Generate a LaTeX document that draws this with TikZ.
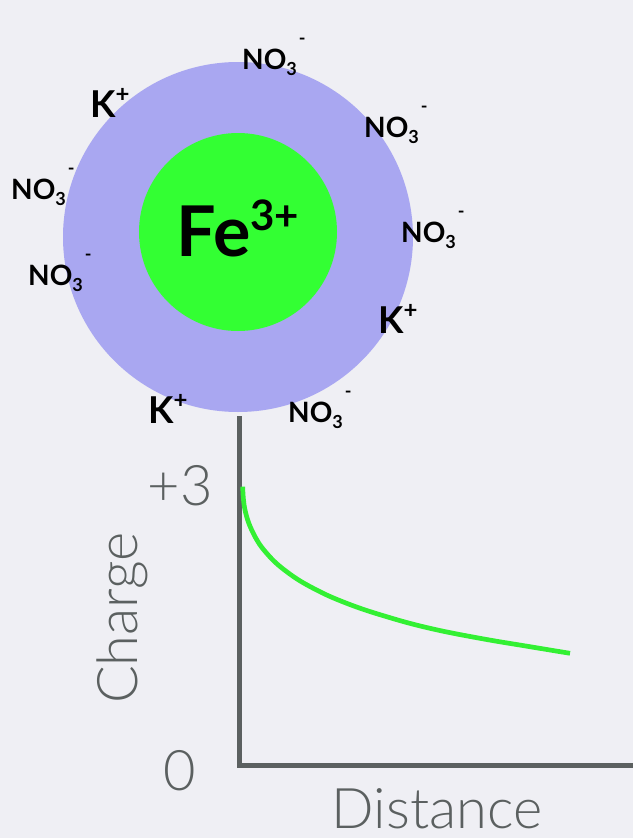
\documentclass[tikz,border=0pt]{standalone}
\usepackage{fontspec}
\setmainfont{Lato}
\newfontfamily\lightf{Lato Light}
\definecolor{bgc}{HTML}{EFEFF4}
\definecolor{lav}{HTML}{A9A7F1}
\definecolor{core}{HTML}{33FF33}
\definecolor{crv}{HTML}{33F033}
\definecolor{axc}{HTML}{5B6060}
\newcommand\nothree{\fontsize{28}{30}\selectfont\bfseries NO\raisebox{-6pt}{\fontsize{18}{18}\selectfont 3}\hspace{2pt}\raisebox{25pt}{\fontsize{18}{18}\selectfont -}}
\newcommand\kplus{\fontsize{37}{40}\selectfont\bfseries K\raisebox{15pt}{\fontsize{24}{24}\selectfont +}}
\tikzset{
  ion/.style={anchor=base west, inner sep=0pt, text=black},
  axisline/.style={draw=axc, line width=5pt},
  curveline/.style={draw=crv, line width=4.7pt},
  axlabel/.style={text=axc, inner sep=0pt, font=\lightf\fontsize{56}{60}\selectfont}
}
\begin{document}
\begin{tikzpicture}[x=1pt,y=-1pt]
\useasboundingbox (0,0) rectangle (633,838);
\fill[bgc] (0,0) rectangle (633,838);
% ion cloud
\node[circle, fill=lav, minimum size=350pt, inner sep=0pt] (shell) at (238,237) {};
\node[circle, fill=core, minimum size=198pt, inner sep=0pt] (core) at (238,232) {};
\node[anchor=base, inner sep=0pt] (fe) at (238,256) {\fontsize{70}{74}\selectfont\bfseries Fe\raisebox{26pt}{\fontsize{42}{44}\selectfont 3+}};
% ions
\node[ion] (n1) at (242,69) {\nothree};
\node[ion] (k1) at (90,117) {\kplus};
\node[ion] (n2) at (364,137) {\nothree};
\node[ion] (n3) at (11,199) {\nothree};
\node[ion] (n4) at (401,242) {\nothree};
\node[ion] (n5) at (28,285) {\nothree};
\node[ion] (k2) at (378,333) {\kplus};
\node[ion] (k3) at (148,423) {\kplus};
\node[ion] (n6) at (288,422) {\nothree};
% graph
\coordinate (ytop) at (239,416);
\coordinate (origin) at (239,765);
\coordinate (xend) at (633,765);
\draw[axisline] (ytop) -- (origin) -- (xend);
\draw[curveline] plot[smooth, tension=0.7] coordinates {(242.7,486.7) (245,510) (253.3,533.3) (266.7,553.3) (286.7,571.7) (313.3,588.3) (346.7,603.3) (386.7,616.7) (430,628.3) (480,638.3) (530,646.7) (570,653.3)};
\node[axlabel, anchor=base east] (p3) at (213,505) {+3};
\node[axlabel, anchor=base east] (zero) at (196,790) {0};
\node[axlabel, anchor=base, rotate=90] (charge) at (137,618) {Charge};
\node[axlabel, anchor=base] (dist) at (437,828) {Distance};
\end{tikzpicture}
\end{document}
